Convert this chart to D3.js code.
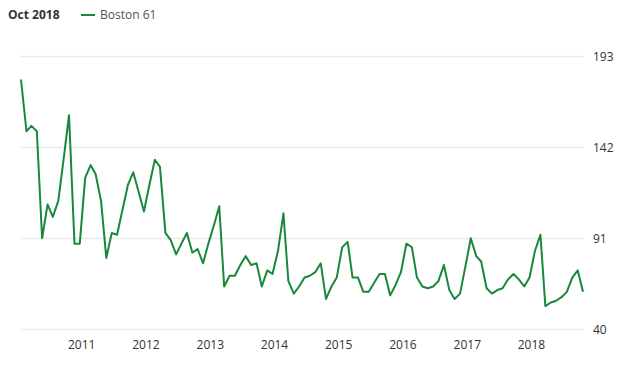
<!DOCTYPE html>
<html>
<head>
<meta charset="utf-8">
<script src="https://cdn.jsdelivr.net/npm/d3@7"></script>
<style>
  body { margin: 0; background: #fff; }
  svg { display: block; font-family: "Open Sans", sans-serif; }
</style>
</head>
<body>
<div id="chart"></div>
<script>
// monthly values, Jan 2010 .. Oct 2018
const startMonth = new Date(2010, 0, 1);
const bostonValues = [
  180, 151, 154, 151, 91, 110, 103, 112, 136, 160, 88, 88,
  125, 132, 127, 112, 80, 94, 93, 107, 121, 128, 117, 106,
  121, 135, 131, 94, 90, 82, 88, 94, 83, 85, 77, 88,
  98, 109, 64, 70, 70, 76, 81, 76, 77, 64, 73, 71,
  84, 105, 67, 60, 64, 69, 70, 72, 77, 57, 64, 69,
  86, 89, 69, 69, 61, 61, 66, 71, 71, 59, 65, 72,
  88, 86, 69, 64, 63, 64, 67, 76, 62, 57, 60, 75,
  91, 81, 78, 63, 60, 62, 63, 68, 71, 68, 64, 69,
  84, 93, 53, 55, 56, 58, 61, 69, 73, 61
];
const yTicks = [40, 91, 142, 193];
const xYears = [2011, 2012, 2013, 2014, 2015, 2016, 2017, 2018];
const titleText = "Oct 2018";
const seriesName = "Boston 61";

const width = 640, height = 373;
const green = "#17883c";

const data = bostonValues.map((v, i) => ({
  date: new Date(startMonth.getFullYear(), startMonth.getMonth() + i, 1),
  value: v
}));

const svg = d3.select("#chart")
  .append("svg")
  .attr("width", width)
  .attr("height", height);

const x = d3.scaleTime()
  .domain(d3.extent(data, d => d.date))
  .range([21, 583]);

const y = d3.scaleLinear()
  .domain([40, 193])
  .range([329.3, 56.3]);

// gridlines
svg.append("g")
  .selectAll("line")
  .data(yTicks)
  .join("line")
  .attr("x1", 20)
  .attr("x2", 584)
  .attr("y1", d => Math.round(y(d)) + 0.5)
  .attr("y2", d => Math.round(y(d)) + 0.5)
  .attr("stroke", "#ebebeb")
  .attr("stroke-width", 1.5);

// y labels on the right
svg.append("g")
  .selectAll("text")
  .data(yTicks)
  .join("text")
  .attr("x", 593)
  .attr("y", d => y(d))
  .attr("dy", "0.35em")
  .attr("font-size", 12)
  .attr("fill", "#333")
  .text(d => d);

// x axis (years)
const xAxis = d3.axisBottom(x)
  .tickValues(xYears.map(yr => new Date(yr, 0, 1)))
  .tickFormat(d3.timeFormat("%Y"))
  .tickSize(0);

const gx = svg.append("g")
  .attr("transform", "translate(0,337)")
  .call(xAxis);
gx.select(".domain").remove();
gx.selectAll("text")
  .attr("dx", -4)
  .attr("font-size", 12)
  .attr("font-family", "Open Sans, sans-serif")
  .attr("fill", "#333");

// line
const line = d3.line()
  .x(d => x(d.date))
  .y(d => y(d.value));

svg.append("path")
  .datum(data)
  .attr("d", line)
  .attr("fill", "none")
  .attr("stroke", green)
  .attr("stroke-width", 2)
  .attr("stroke-linejoin", "round");

// header: date + legend
svg.append("text")
  .attr("x", 8)
  .attr("y", 19)
  .attr("font-size", 12)
  .attr("font-weight", "bold")
  .attr("fill", "#333")
  .text(titleText);

svg.append("line")
  .attr("x1", 81)
  .attr("x2", 95)
  .attr("y1", 15)
  .attr("y2", 15)
  .attr("stroke", green)
  .attr("stroke-width", 2);

svg.append("text")
  .attr("x", 100)
  .attr("y", 19)
  .attr("font-size", 12)
  .attr("fill", "#555")
  .text(seriesName);
</script>
</body>
</html>
